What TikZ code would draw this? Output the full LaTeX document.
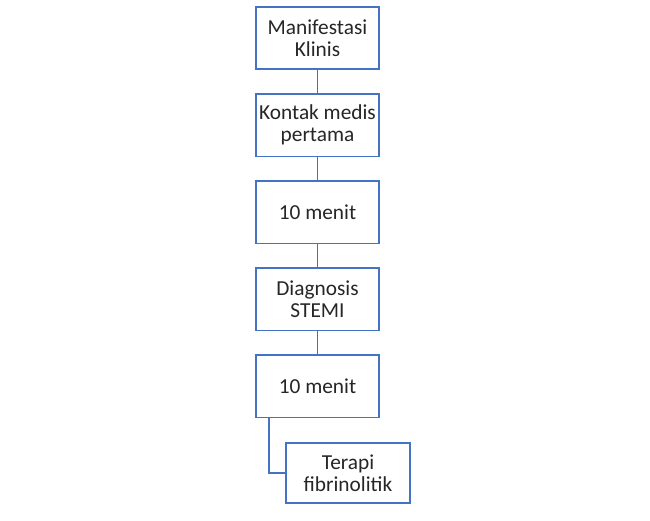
\documentclass[tikz,border=0pt]{standalone}
\usepackage{fontspec}
\setmainfont{Carlito}
\usetikzlibrary{positioning}
\definecolor{boxblue}{HTML}{4472C4}
\tikzset{
  stepbox/.style={draw=boxblue, line width=1.2pt, fill=white, text=black!85,
    minimum width=92.25pt, minimum height=46.9pt, align=center,
    inner sep=1pt, outer sep=0pt, font=\fontsize{16}{16.5}\selectfont},
  link/.style={draw=boxblue, line width=1.2pt}
}
\begin{document}
\begin{tikzpicture}[x=0.75pt, y=-0.75pt]
  \useasboundingbox (0,0) rectangle (650,521);
  \node[stepbox] (klinis) at (317.5,38) {Manifestasi\\Klinis};
  \node[stepbox, below=18.4pt of klinis] (kontak) {Kontak medis\\pertama};
  \node[stepbox, below=18.4pt of kontak] (menita) {10 menit};
  \node[stepbox, below=18.4pt of menita] (stemi) {Diagnosis\\STEMI};
  \node[stepbox, below=18.4pt of stemi] (menitb) {10 menit};
  \node[stepbox, minimum width=93pt, minimum height=45pt] (terapi) at (348,473) {Terapi\\fibrinolitik};
  % connectors
  \draw[link] (klinis) -- (kontak);
  \draw[link] (kontak) -- (menita);
  \draw[link] (menita) -- (stemi);
  \draw[link] (stemi) -- (menitb);
  \draw[link] ([xshift=9.75pt]menitb.south west) |- (terapi.west);
\end{tikzpicture}
\end{document}
